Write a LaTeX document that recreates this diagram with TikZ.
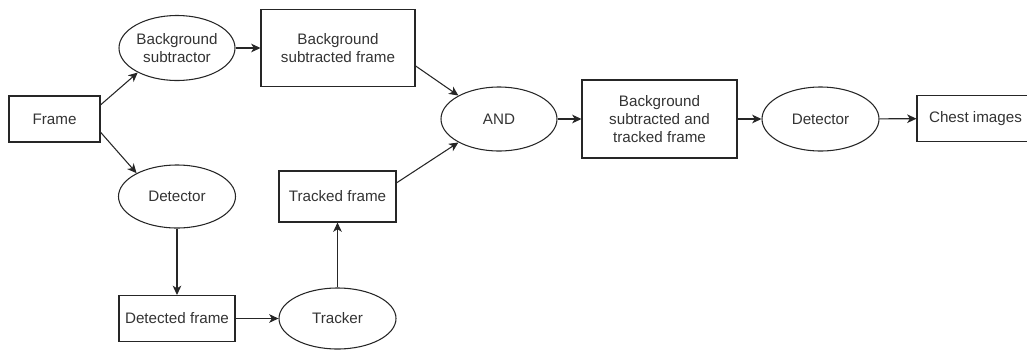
\documentclass[tikz,border=0pt]{standalone}
\usepackage{fontspec}
\setmainfont{Liberation Sans}
\usetikzlibrary{shapes.geometric,arrows.meta}
\definecolor{ink}{RGB}{51,51,51}
\begin{document}
\begin{tikzpicture}[x=0.75pt,y=-0.75pt,
	box/.style={draw=black!85,line width=0.8pt,rectangle,inner sep=0pt,align=center,text=ink,font=\fontsize{11.4}{13.5}\selectfont},
	oval/.style={draw=black!85,line width=0.8pt,ellipse,inner sep=0pt,align=center,text=ink,font=\fontsize{11.4}{13.5}\selectfont},
	arr/.style={draw=black!85,line width=0.8pt,-{Stealth[length=7pt,width=6.5pt,inset=2pt]}}]
	\clip (0,0) rectangle (1027,350);
	% upper branch
	\node[box,minimum width=68.25pt,minimum height=34.5pt] (frame) at (54.5,119) {Frame};
	\node[oval,minimum width=87pt,minimum height=48.75pt] (bgsub) at (177,48) {Background\\subtractor};
	\node[box,minimum width=115.5pt,minimum height=57.75pt] (bgframe) at (338,48) {Background\\subtracted frame};
	% lower branch
	\node[oval,minimum width=87.75pt,minimum height=47.25pt] (det) at (177,196.5) {Detector};
	\node[box,minimum width=87pt,minimum height=34.5pt] (detframe) at (177,318.5) {Detected frame};
	\node[oval,minimum width=87.75pt,minimum height=45.75pt] (tracker) at (337.5,318.5) {Tracker};
	\node[box,minimum width=87.75pt,minimum height=38.25pt] (tracked) at (337.5,196.5) {Tracked frame};
	% merge and output
	\node[oval,minimum width=87pt,minimum height=48pt] (and) at (499,119) {AND};
	\node[box,minimum width=116.25pt,minimum height=58.5pt] (both) at (659.5,119) {Background\\subtracted and\\tracked frame};
	\node[oval,minimum width=87.75pt,minimum height=48pt] (det2) at (820.5,119) {Detector};
	\node[box,minimum width=87.75pt,minimum height=34.5pt] (chest) at (975.5,118.5) {Chest images};
	% connectors
	\draw[arr] (frame.17) -- (bgsub.212);
	\draw[arr] (frame.-16) -- (det.150);
	\draw[arr] (bgsub) -- (bgframe);
	\draw[arr] (bgframe.-13.5) -- (and.150);
	\draw[arr] (det) -- (detframe);
	\draw[arr] (detframe) -- (tracker);
	\draw[arr] (tracker) -- (tracked);
	\draw[arr] (tracked.13) -- (and.210);
	\draw[arr] (and) -- (both);
	\draw[arr] (both) -- (det2);
	\draw[arr] (det2) -- (chest);
\end{tikzpicture}
\end{document}
